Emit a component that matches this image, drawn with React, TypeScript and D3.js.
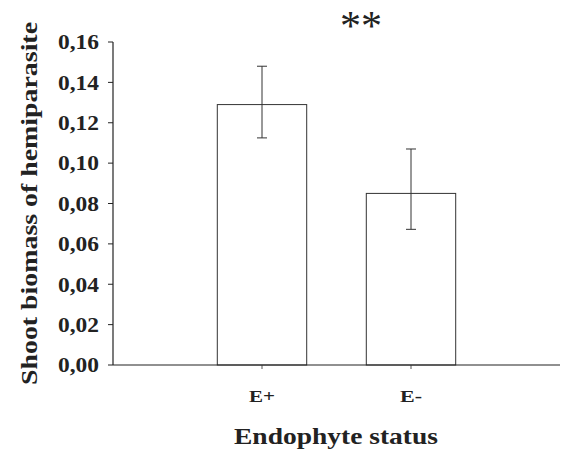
import React from "react";
import * as d3 from "d3";

const categories = ["E+", "E-"];
const means = [0.129, 0.085];
const errLow = [0.1125, 0.0672];
const errHigh = [0.148, 0.107];
const yTicks = [0, 0.02, 0.04, 0.06, 0.08, 0.1, 0.12, 0.14, 0.16];

const W = 568, H = 451;
const x0 = 113, x1 = 560, yTop = 42, yBot = 365;

export default function App() {
  const y = d3.scaleLinear().domain([0, 0.16]).range([yBot, yTop]);
  const x = d3.scaleLinear().domain([0, 3]).range([x0, x1]);
  const step = x(1) - x(0);
  const bw = step * 0.6;
  const fmt = (v: number) => d3.format(".2f")(v).replace(".", ",");
  const serif = "'Liberation Serif', 'Times New Roman', serif";
  const catLen = [26, 22];
  return (
    <svg width={W} height={H} style={{ position: "absolute", left: 0, top: 0 }}>
      <rect width={W} height={H} fill="#fff" />
      {categories.map((c, i) => {
        const cx = x(i + 1);
        return (
          <g key={c}>
            <rect x={cx - bw / 2} y={y(means[i])} width={bw} height={y(0) - y(means[i])} fill="#fff" stroke="#333" strokeWidth={1} />
            <line x1={cx} x2={cx} y1={y(errHigh[i])} y2={y(errLow[i])} stroke="#333" strokeWidth={1} />
            <line x1={cx - 5} x2={cx + 5} y1={y(errHigh[i])} y2={y(errHigh[i])} stroke="#333" strokeWidth={1} />
            <line x1={cx - 5} x2={cx + 5} y1={y(errLow[i])} y2={y(errLow[i])} stroke="#333" strokeWidth={1} />
            <line x1={cx} x2={cx} y1={yBot} y2={yBot + 4} stroke="#555" strokeWidth={1} />
            <text x={cx} y={402} textAnchor="middle" fontFamily={serif} fontWeight="bold" fontSize={17} fill="#222" textLength={catLen[i]} lengthAdjust="spacingAndGlyphs">{c}</text>
          </g>
        );
      })}
      <line x1={x0} x2={x1} y1={yBot} y2={yBot} stroke="#222" strokeWidth={1.2} />
      <line x1={x0} x2={x0} y1={yTop} y2={yBot} stroke="#222" strokeWidth={1.2} />
      {yTicks.map((t) => (
        <g key={t}>
          <line x1={x0 - 5} x2={x0} y1={y(t)} y2={y(t)} stroke="#222" strokeWidth={1} />
          <text x={99} y={y(t)} dy="0.35em" textAnchor="end" fontFamily={serif} fontWeight="bold" fontSize={21} fill="#222" textLength={41} lengthAdjust="spacingAndGlyphs">{fmt(t)}</text>
        </g>
      ))}
      <text transform={`translate(37,${(22 + 385) / 2}) rotate(-90)`} textAnchor="middle" fontFamily={serif} fontWeight="bold" fontSize={23} fill="#222" textLength={363} lengthAdjust="spacingAndGlyphs">Shoot biomass of hemiparasite</text>
      <text x={336} y={444} textAnchor="middle" fontFamily={serif} fontWeight="bold" fontSize={23} fill="#222" textLength={204} lengthAdjust="spacingAndGlyphs">Endophyte status</text>
      <text x={361} y={40} textAnchor="middle" fontFamily={serif} fontSize={42} fill="#222">**</text>
    </svg>
  );
}
